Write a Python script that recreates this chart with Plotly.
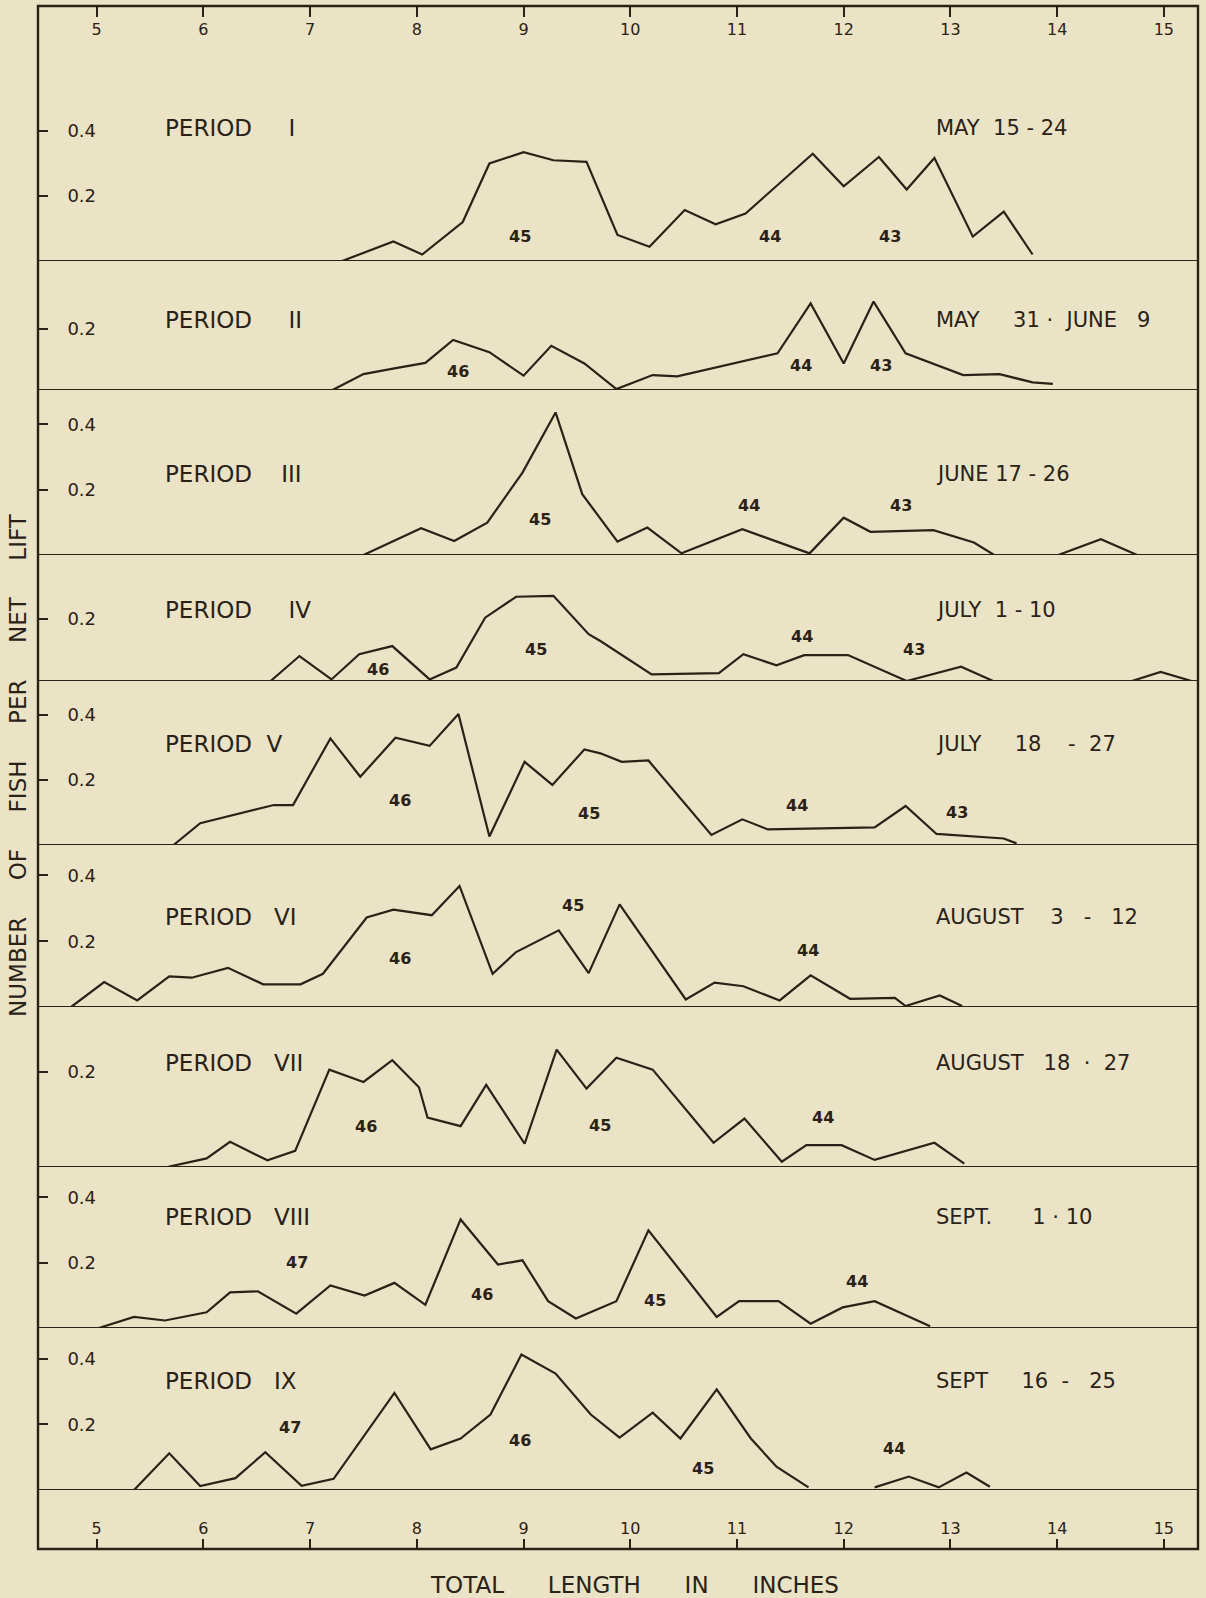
import plotly.graph_objects as go

# ---------------- data (total length in inches, fish per net lift) ----------------
len_I = [7.30, 7.78, 8.05, 8.43, 8.68, 9.00, 9.28, 9.59, 9.88, 10.18, 10.51, 10.80, 11.08, 11.71, 12.00, 12.33, 12.59, 12.85, 13.21, 13.50, 13.77]
val_I = [0.0, 0.06, 0.02, 0.12, 0.30, 0.335, 0.31, 0.305, 0.08, 0.044, 0.157, 0.113, 0.146, 0.33, 0.23, 0.32, 0.22, 0.317, 0.075, 0.152, 0.02]

len_II = [7.21, 7.50, 7.79, 8.08, 8.34, 8.68, 9.00, 9.26, 9.57, 9.87, 10.21, 10.44, 11.38, 11.69, 12.00, 12.28, 12.58, 13.12, 13.46, 13.77, 13.96]
val_II = [0.0, 0.052, 0.071, 0.089, 0.164, 0.124, 0.047, 0.145, 0.087, 0.003, 0.049, 0.045, 0.12, 0.284, 0.087, 0.29, 0.12, 0.049, 0.052, 0.025, 0.02]

len_III = [7.50, 8.04, 8.35, 8.66, 8.99, 9.30, 9.55, 9.88, 10.16, 10.48, 11.05, 11.68, 12.00, 12.25, 12.84, 13.22, 13.41, None, 14.01, 14.41, 14.75]
val_III = [0.0, 0.082, 0.043, 0.099, 0.252, 0.436, 0.186, 0.041, 0.084, 0.005, 0.079, 0.005, 0.114, 0.071, 0.076, 0.038, 0.0, None, 0.0, 0.048, 0.0]

len_IV = [6.63, 6.90, 7.20, 7.46, 7.77, 8.12, 8.37, 8.64, 8.93, 9.28, 9.61, 9.72, 10.20, 10.83, 11.06, 11.37, 11.63, 12.04, 12.59, 13.10, 13.40, None, 14.70, 14.97, 15.26]
val_IV = [0.0, 0.08, 0.005, 0.086, 0.112, 0.005, 0.043, 0.203, 0.27, 0.273, 0.15, 0.128, 0.021, 0.025, 0.086, 0.05, 0.083, 0.083, 0.0, 0.046, 0.0, None, 0.0, 0.029, 0.0]

len_V = [5.72, 5.97, 6.66, 6.84, 7.19, 7.47, 7.80, 8.12, 8.39, 8.68, 9.01, 9.27, 9.57, 9.72, 9.92, 10.17, 10.76, 11.05, 11.29, 12.29, 12.58, 12.87, 13.50, 13.62]
val_V = [0.0, 0.067, 0.123, 0.123, 0.328, 0.21, 0.33, 0.305, 0.403, 0.026, 0.256, 0.185, 0.294, 0.282, 0.256, 0.26, 0.031, 0.079, 0.048, 0.054, 0.12, 0.034, 0.02, 0.005]

len_VI = [4.76, 5.07, 5.38, 5.68, 5.89, 6.23, 6.56, 6.91, 7.12, 7.53, 7.78, 8.14, 8.40, 8.71, 8.93, 9.33, 9.61, 9.90, 10.52, 10.79, 11.06, 11.40, 11.69, 12.06, 12.48, 12.58, 12.90, 13.11]
val_VI = [0.0, 0.076, 0.02, 0.093, 0.089, 0.119, 0.069, 0.069, 0.101, 0.272, 0.296, 0.279, 0.368, 0.101, 0.167, 0.233, 0.103, 0.312, 0.023, 0.074, 0.063, 0.02, 0.096, 0.025, 0.028, 0.003, 0.035, 0.003]

len_VII = [5.66, 6.03, 6.25, 6.60, 6.86, 7.18, 7.50, 7.77, 8.02, 8.10, 8.41, 8.65, 9.01, 9.31, 9.59, 9.87, 10.21, 10.78, 11.07, 11.42, 11.65, 11.98, 12.29, 12.85, 13.13]
val_VII = [0.0, 0.018, 0.053, 0.014, 0.034, 0.205, 0.179, 0.225, 0.168, 0.104, 0.086, 0.173, 0.049, 0.247, 0.165, 0.23, 0.205, 0.051, 0.102, 0.011, 0.046, 0.046, 0.015, 0.051, 0.007]

len_VIII = [5.02, 5.35, 5.64, 6.03, 6.25, 6.51, 6.87, 7.19, 7.51, 7.79, 8.08, 8.41, 8.76, 8.99, 9.23, 9.49, 9.87, 10.17, 10.81, 11.02, 11.39, 11.69, 11.99, 12.29, 12.81]
val_VIII = [0.0, 0.034, 0.023, 0.048, 0.109, 0.112, 0.044, 0.13, 0.099, 0.138, 0.071, 0.332, 0.194, 0.207, 0.082, 0.029, 0.082, 0.299, 0.034, 0.082, 0.082, 0.013, 0.063, 0.082, 0.005]

len_IX = [5.35, 5.68, 5.97, 6.30, 6.58, 6.92, 7.22, 7.79, 8.13, 8.41, 8.69, 8.98, 9.30, 9.63, 9.90, 10.21, 10.47, 10.81, 11.13, 11.37, 11.67, None, 12.29, 12.61, 12.89, 13.15, 13.37]
val_IX = [0.0, 0.112, 0.012, 0.036, 0.115, 0.013, 0.034, 0.296, 0.124, 0.157, 0.23, 0.413, 0.355, 0.23, 0.16, 0.236, 0.157, 0.307, 0.157, 0.071, 0.008, None, 0.008, 0.041, 0.008, 0.053, 0.01]

# year-class labels per period: text, and where they sit (length, value)
yc_text = [["45", "44", "43"], ["46", "44", "43"], ["45", "44", "43"], ["46", "45", "44", "43"],
           ["46", "45", "44", "43"], ["46", "45", "44"], ["46", "45", "44"], ["47", "46", "45", "44"],
           ["47", "46", "45", "44"]]
yc_x = [[8.97, 11.31, 12.43], [8.39, 11.60, 12.35], [9.15, 11.11, 12.54], [7.64, 9.12, 11.61, 12.66],
        [7.84, 9.61, 11.56, 13.06], [7.84, 9.46, 11.67], [7.52, 9.72, 11.81], [6.88, 8.61, 10.23, 12.12],
        [6.81, 8.97, 10.68, 12.47]]
yc_y = [[0.075, 0.075, 0.075], [0.06, 0.08, 0.08], [0.109, 0.15, 0.15], [0.037, 0.10, 0.142, 0.10],
        [0.138, 0.097, 0.123, 0.10], [0.147, 0.309, 0.172], [0.086, 0.088, 0.104], [0.201, 0.102, 0.085, 0.143],
        [0.191, 0.152, 0.066, 0.127]]

NB = "\u00a0"


def sp(n):
    return NB * n


period_names = ["PERIOD" + sp(5) + "I", "PERIOD" + sp(5) + "II", "PERIOD" + sp(4) + "III",
                "PERIOD" + sp(5) + "IV", "PERIOD" + sp(2) + "V", "PERIOD" + sp(3) + "VI",
                "PERIOD" + sp(3) + "VII", "PERIOD" + sp(3) + "VIII", "PERIOD" + sp(3) + "IX"]
date_labels = ["MAY" + sp(2) + "15" + sp(1) + "-" + sp(1) + "24",
               "MAY" + sp(5) + "31" + sp(1) + "·" + sp(2) + "JUNE" + sp(3) + "9",
               "JUNE" + sp(1) + "17" + sp(1) + "-" + sp(1) + "26",
               "JULY" + sp(2) + "1" + sp(1) + "-" + sp(1) + "10",
               "JULY" + sp(5) + "18" + sp(4) + "-" + sp(2) + "27",
               "AUGUST" + sp(4) + "3" + sp(3) + "-" + sp(3) + "12",
               "AUGUST" + sp(3) + "18" + sp(2) + "·" + sp(2) + "27",
               "SEPT." + sp(6) + "1" + sp(1) + "·" + sp(1) + "10",
               "SEPT" + sp(5) + "16" + sp(2) + "-" + sp(3) + "25"]
label_y = [0.41, 0.23, 0.247, 0.228, 0.312, 0.273, 0.22, 0.338, 0.333]
y_ticks = [[0.2, 0.4], [0.2], [0.2, 0.4], [0.2], [0.2, 0.4], [0.2, 0.4], [0.2], [0.2, 0.4], [0.2, 0.4]]
x_ticks = [5, 6, 7, 8, 9, 10, 11, 12, 13, 14, 15]

lengths = [len_I, len_II, len_III, len_IV, len_V, len_VI, len_VII, len_VIII, len_IX]
values = [val_I, val_II, val_III, val_IV, val_V, val_VI, val_VII, val_VIII, val_IX]

# ---------------- geometry / style ----------------
W, H = 1206, 1598
ML, MR, MT, MB = 38, 8, 6, 49
PW = W - ML - MR
PH = H - MT - MB
baselines_px = [261, 390, 555, 681, 845, 1007, 1167, 1328, 1490]
px_per_unit = [325, 305, 327, 312, 325, 329, 475, 327, 328]
tops_px = [MT] + baselines_px[:-1]
INK = "#2A2217"
BG = "#EBE3C5"
FONT = "DejaVu Sans"


def paper_y(py):
    return (H - MB - py) / PH


fig = go.Figure()
layout_axes = {}
annotations = []
shapes = []

for i in range(9):
    n = "" if i == 0 else str(i + 1)
    yname = "y" + n
    fig.add_trace(go.Scatter(x=lengths[i], y=values[i], mode="lines", xaxis="x", yaxis=yname,
                             line=dict(color=INK, width=2.2), connectgaps=False,
                             showlegend=False, hoverinfo="skip"))
    hpx = baselines_px[i] - tops_px[i]
    layout_axes["yaxis" + n] = dict(
        domain=[paper_y(baselines_px[i]), min(1.0, paper_y(tops_px[i]))],
        range=[0, hpx / px_per_unit[i]], anchor="x",
        showgrid=False, zeroline=False, showline=False,
        ticks="inside", ticklen=10, tickwidth=2, tickcolor=INK,
        tickvals=y_ticks[i], ticktext=["%.1f" % v for v in y_ticks[i]],
        ticklabelposition="inside", ticklabelstandoff=20,
        tickfont=dict(family=FONT, size=18, color=INK), fixedrange=True)
    shapes.append(dict(type="line", xref="paper", x0=0, x1=1, yref=yname, y0=0, y1=0,
                       line=dict(color=INK, width=2.2)))
    annotations.append(dict(x=5.62, y=label_y[i], xref="x", yref=yname, text=period_names[i],
                            showarrow=False, xanchor="left", yanchor="middle",
                            font=dict(family=FONT, size=23, color=INK)))
    annotations.append(dict(x=12.85, y=label_y[i], xref="x", yref=yname, text=date_labels[i],
                            showarrow=False, xanchor="left", yanchor="middle",
                            font=dict(family=FONT, size=21, color=INK)))
    for t, xx, yy in zip(yc_text[i], yc_x[i], yc_y[i]):
        annotations.append(dict(x=xx, y=yy, xref="x", yref=yname, text="<b>" + t + "</b>",
                                showarrow=False, xanchor="center", yanchor="middle",
                                font=dict(family=FONT, size=16, color=INK)))

# invisible trace so the top axis is drawn
fig.add_trace(go.Scatter(x=[None], y=[None], xaxis="x2", yaxis="y", showlegend=False, hoverinfo="skip"))

xcommon = dict(range=[4.45, 15.32], showgrid=False, zeroline=False, showline=False,
               ticks="inside", ticklen=10, tickwidth=2, tickcolor=INK,
               tickvals=x_ticks, ticktext=[str(v) for v in x_ticks],
               ticklabelposition="inside",
               tickfont=dict(family=FONT, size=16, color=INK), fixedrange=True)

layout_axes["xaxis"] = dict(xcommon, domain=[0, 1], anchor="free", position=0, side="bottom",
                            ticklabelstandoff=2)
layout_axes["xaxis2"] = dict(xcommon, domain=[0, 1], anchor="free", position=1, side="top",
                             overlaying="x", ticklabelstandoff=7)

shapes.append(dict(type="rect", xref="paper", yref="paper", x0=0, x1=1, y0=0, y1=1,
                   line=dict(color=INK, width=2.4)))

annotations.append(dict(x=(634 - ML) / PW, y=(H - MB - 1585) / PH, xref="paper", yref="paper",
                        text="TOTAL" + sp(6) + "LENGTH" + sp(6) + "IN" + sp(6) + "INCHES",
                        showarrow=False, xanchor="center", yanchor="middle",
                        font=dict(family=FONT, size=23, color=INK)))
annotations.append(dict(x=(18 - ML) / PW, y=paper_y(765), xref="paper", yref="paper",
                        text="NUMBER" + sp(5) + "OF" + sp(5) + "FISH" + sp(5) + "PER" + sp(5) + "NET" + sp(5) + "LIFT",
                        showarrow=False, xanchor="center", yanchor="middle", textangle=-90,
                        font=dict(family=FONT, size=23, color=INK)))

fig.update_layout(width=W, height=H, margin=dict(l=ML, r=MR, t=MT, b=MB, autoexpand=False),
                  paper_bgcolor=BG, plot_bgcolor=BG, showlegend=False,
                  annotations=annotations, shapes=shapes, **layout_axes)

fig.write_html("out.html", config={"displayModeBar": False, "staticPlot": True},
               post_script="document.body.style.margin='0px';document.body.style.padding='0px';"
                           "document.body.style.overflow='hidden';"
                           "document.body.style.background='" + BG + "';")
